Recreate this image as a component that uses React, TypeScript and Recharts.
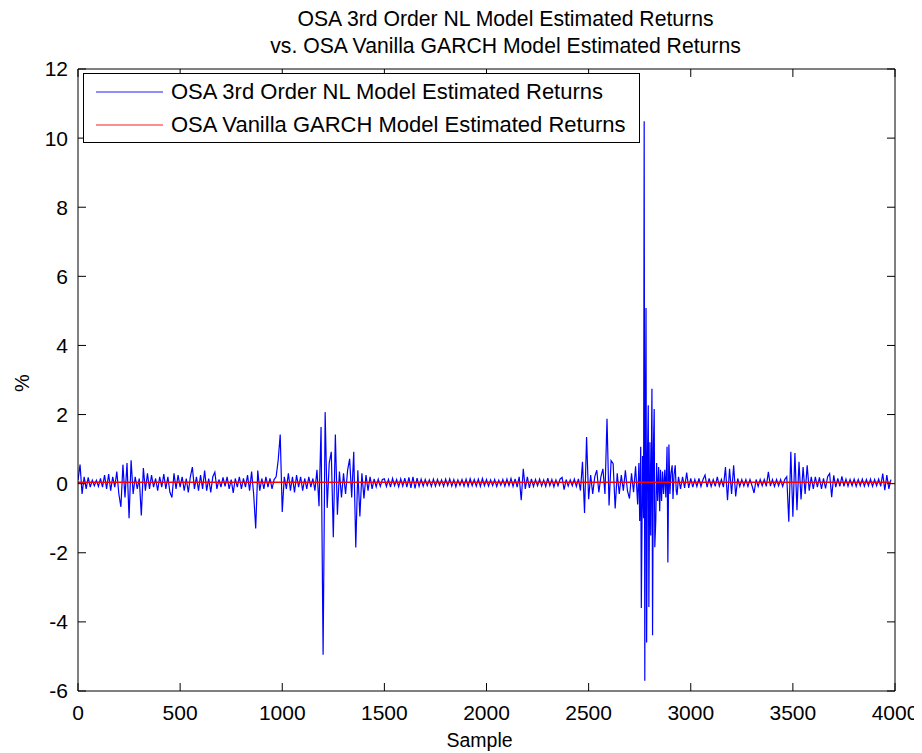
import React from 'react';
import { LineChart, Line, XAxis, YAxis, Legend } from 'recharts';

const FONT = '"Liberation Sans", Arial, Helvetica, sans-serif';

const titleLines = [
  'OSA 3rd Order NL Model Estimated Returns',
  'vs. OSA Vanilla GARCH Model Estimated Returns',
];
const seriesNames = [
  'OSA 3rd Order NL Model Estimated Returns',
  'OSA Vanilla GARCH Model Estimated Returns',
];
const xLabel = 'Sample';
const yLabel = '%';
const xTicks = [0, 500, 1000, 1500, 2000, 2500, 3000, 3500, 4000];
const yTicks = [-6, -4, -2, 0, 2, 4, 6, 8, 10, 12];

// NL model returns, one value every 10 samples
const SAMPLE_STEP = 10;
const nlSamples0000 = [
  0.1, 0.55, -0.3, 0.2, -0.15, 0.18, -0.1, 0.1, -0.06, 0.1,
  -0.08, 0.15, -0.1, 0.25, -0.15, 0.28, -0.2, 0.2, -0.1, 0.35,
  -0.3, -0.67, 0.55, -0.4, 0.6, -1.0, 0.68, -0.3, 0.2, -0.15,
  0.15, -0.92, 0.45, -0.2, 0.3, -0.15, 0.25, -0.1, 0.15, -0.2,
  0.2, -0.1, 0.28, -0.15, 0.2, -0.25, -0.4, 0.3, -0.15, 0.25,
];
const nlSamples0500 = [
  -0.1, 0.2, -0.2, 0.15, -0.25, 0.2, 0.48, -0.15, 0.2, -0.2,
  0.25, -0.15, 0.38, -0.2, 0.15, -0.25, 0.2, 0.33, -0.15, 0.12,
  -0.1, 0.18, -0.08, 0.2, -0.15, 0.12, -0.27, 0.15, -0.1, 0.2,
  -0.15, 0.15, -0.1, 0.25, -0.2, 0.35, -0.3, -1.3, 0.38, -0.2,
  0.15, -0.15, 0.2, -0.1, 0.15, -0.15, 0.12, 0.2, 0.67, 1.42,
];
const nlSamples1000 = [
  -0.82, 0.2, -0.15, 0.3, -0.2, 0.2, -0.25, 0.25, -0.1, 0.2,
  -0.2, 0.15, -0.15, 0.2, -0.1, 0.15, -0.2, 0.4, -0.65, 1.64,
  -4.95, 2.07, -0.7, 0.6, 0.92, -1.55, 1.42, -0.9, 0.35, -0.4,
  0.3, -0.3, 0.39, 0.72, -0.4, 0.92, -1.85, 0.39, -0.95, 0.3,
  -0.43, 0.25, -0.2, 0.2, -0.15, 0.14, -0.09, 0.13, -0.08, 0.12,
];
const nlSamples1500 = [
  0.14, -0.08, 0.12, -0.1, 0.15, -0.06, 0.12, -0.09, 0.14, -0.07,
  0.16, -0.1, 0.18, -0.12, 0.2, -0.14, 0.16, -0.08, 0.13, -0.07,
  0.12, -0.06, 0.11, -0.08, 0.13, -0.07, 0.12, -0.05, 0.11, -0.08,
  0.13, -0.06, 0.14, -0.07, 0.12, -0.09, 0.11, -0.05, 0.12, -0.07,
  0.13, -0.08, 0.14, -0.06, 0.12, -0.07, 0.13, -0.08, 0.15, -0.06,
];
const nlSamples2000 = [
  0.12, -0.07, 0.11, -0.06, 0.12, -0.08, 0.1, -0.05, 0.12, -0.07,
  0.13, -0.06, 0.15, -0.08, 0.14, -0.1, 0.2, -0.48, 0.43, -0.15,
  0.2, -0.12, 0.14, -0.08, 0.12, -0.06, 0.13, -0.07, 0.11, -0.08,
  0.16, -0.06, 0.12, -0.09, 0.11, -0.06, 0.13, 0.18, -0.17, 0.12,
  -0.07, 0.11, -0.06, 0.13, -0.08, 0.14, -0.2, 0.63, -0.85, 1.35,
];
const nlSamples2500 = [
  -0.45, 0.25, -0.3, 0.2, 0.39, -0.25, 0.2, 0.43, -0.3, 1.88,
  -0.63, 0.67, 0.58, -0.72, 0.3, -0.3, 0.25, -0.2, 0.39, -0.2,
];
// dense burst around sample 2700-2990: [sample, value]
const nlBurst2700: [number, number][] = [
  [2700, -0.43], [2710, 0.3], [2720, -0.25], [2730, 0.5], [2740, -0.6],
  [2746, 0.6], [2750, -1.08], [2755, 1.07], [2758, -3.6], [2764, 0.8],
  [2769, -1.0], [2772, 10.49], [2775, -5.7], [2778, 1.5], [2781, 5.08],
  [2784, -4.6], [2788, 0.8], [2792, 2.27], [2795, -3.57], [2800, 1.2],
  [2804, -1.5], [2810, 2.75], [2813, -4.39], [2817, 1.0], [2821, 2.16],
  [2824, -1.84], [2829, -1.03], [2833, 0.6], [2838, -0.5], [2843, 0.48],
  [2848, -0.8], [2852, 0.4], [2857, -0.5], [2862, 0.35], [2867, -0.3],
  [2873, 0.4], [2878, -0.4], [2884, 1.07], [2888, -2.28], [2893, 1.13],
  [2898, -0.3], [2903, 0.3], [2909, 0.53], [2913, -0.44], [2918, 0.25],
  [2924, 0.53], [2929, -0.2], [2933, -0.33], [2940, 0.2], [2950, -0.15],
  [2960, 0.2], [2970, -0.12], [2980, 0.32], [2990, -0.12],
];
const nlSamples3000 = [
  0.15, -0.1, 0.12, -0.08, 0.15, -0.08, 0.12, 0.25, -0.1, 0.15,
  -0.08, 0.12, -0.08, 0.2, -0.07, 0.12, -0.1, 0.48, -0.48, 0.43,
  -0.3, 0.53, -0.37, 0.15, -0.08, 0.12, -0.07, 0.12, -0.08, 0.12,
  -0.06, -0.27, 0.12, -0.08, 0.12, -0.06, 0.12, -0.08, 0.34, -0.07,
  0.12, -0.08, 0.12, -0.06, 0.12, -0.08, 0.12, 0.2, -1.1, 0.92,
];
const nlSamples3500 = [
  -0.96, 0.89, -0.77, 0.63, -0.46, 0.48, -0.3, 0.53, -0.2, 0.2,
  -0.15, 0.2, -0.1, 0.18, -0.15, 0.15, -0.14, 0.2, 0.29, -0.39,
  0.24, -0.1, 0.15, -0.08, 0.21, -0.08, 0.13, -0.07, 0.12, -0.06,
  0.13, -0.08, 0.12, -0.06, 0.13, -0.07, 0.12, -0.06, 0.13, -0.08,
  0.12, -0.06, 0.13, -0.08, 0.29, -0.19, 0.25, -0.15, 0.12,
];

// GARCH model returns (flat)
const garchSamples = [0, 1000, 2000, 3000, 3980];
const garchReturns = [0.04, 0.04, 0.04, 0.04, 0.04];

const fromStep = (start: number, values: number[]) =>
  values.map((v, i) => ({ x: start + i * SAMPLE_STEP, y: v }));

const nlData = [
  ...fromStep(0, nlSamples0000),
  ...fromStep(500, nlSamples0500),
  ...fromStep(1000, nlSamples1000),
  ...fromStep(1500, nlSamples1500),
  ...fromStep(2000, nlSamples2000),
  ...fromStep(2500, nlSamples2500),
  ...nlBurst2700.map(([x, y]) => ({ x, y })),
  ...fromStep(3000, nlSamples3000),
  ...fromStep(3500, nlSamples3500),
];
const garchData = garchSamples.map((x, i) => ({ x, y: garchReturns[i] }));

const tickStyle = { fill: '#000', fontSize: 21, fontFamily: FONT };

const renderTitle = (props: any) => {
  const vb = props.viewBox;
  const cx = vb.x + vb.width / 2 + 19;
  return (
    <text textAnchor="middle" fontFamily={FONT} fontSize={21.2} fill="#000">
      {titleLines.map((t, i) => (
        <tspan key={i} x={cx} y={vb.y - 50 + i * 27} dominantBaseline="central">
          {t}
        </tspan>
      ))}
    </text>
  );
};

const renderXLabel = (props: any) => {
  const vb = props.viewBox;
  return (
    <text x={vb.x + vb.width / 2 - 7} y={vb.y + 49} textAnchor="middle" dominantBaseline="central"
      fontFamily={FONT} fontSize={19.5} fill="#000">{xLabel}</text>
  );
};

const renderYLabel = (props: any) => {
  const vb = props.viewBox;
  const x = vb.x + 14;
  const y = vb.y + vb.height / 2 + 3;
  return (
    <text x={x} y={y} textAnchor="middle" dominantBaseline="central" transform={`rotate(-90 ${x} ${y})`}
      fontFamily={FONT} fontSize={20} fill="#000">{yLabel}</text>
  );
};

const renderLegend = (props: any) => {
  const payload = props.payload || [];
  return (
    <div style={{ boxSizing: 'border-box', width: 557, height: 70, border: '1px solid #000', background: '#fff', position: 'relative', fontFamily: FONT, fontSize: 22, color: '#000' }}>
      {payload.map((entry: any, i: number) => (
        <div key={i} style={{ position: 'absolute', left: 12, top: 3 + i * 33, height: 30, display: 'flex', alignItems: 'center', whiteSpace: 'nowrap' }}>
          <svg width={67} height={4} style={{ display: 'block' }}>
            <line x1={0} y1={2} x2={67} y2={2} stroke={entry.color} strokeOpacity={0.6} strokeWidth={1.3} />
          </svg>
          <span style={{ marginLeft: 8 }}>{entry.value}</span>
        </div>
      ))}
    </div>
  );
};

export default function App() {
  return (
    <LineChart width={914} height={745} margin={{ top: 60, right: 26, bottom: 0, left: 0 }} style={{ fontFamily: FONT }}>
      <XAxis xAxisId="bottom" dataKey="x" type="number" domain={[0, 4000]} ticks={xTicks} height={62}
        tickSize={-8} tickMargin={22} tick={tickStyle} axisLine={{ stroke: '#000' }} tickLine={{ stroke: '#000' }}
        allowDataOverflow label={renderXLabel} />
      <XAxis xAxisId="top" orientation="top" dataKey="x" type="number" domain={[0, 4000]} ticks={xTicks} height={1}
        tickSize={-8} tickFormatter={() => ''} axisLine={{ stroke: '#000' }} tickLine={{ stroke: '#000' }}
        allowDataOverflow label={renderTitle} />
      <YAxis yAxisId="left" type="number" domain={[-6, 12]} ticks={yTicks} width={70}
        tickSize={-8} tickMargin={18} tick={tickStyle} axisLine={{ stroke: '#000' }} tickLine={{ stroke: '#000' }}
        allowDataOverflow label={renderYLabel} />
      <YAxis yAxisId="right" orientation="right" type="number" domain={[-6, 12]} ticks={yTicks} width={1}
        tickSize={-8} tickFormatter={() => ''} axisLine={{ stroke: '#000' }} tickLine={{ stroke: '#000' }}
        allowDataOverflow />
      <Legend layout="horizontal" verticalAlign="middle" align="center" content={renderLegend}
        wrapperStyle={{ left: 75, top: 65, width: 557, height: 70 }} />
      <Line xAxisId="bottom" yAxisId="left" data={nlData} dataKey="y" name={seriesNames[0]} type="linear"
        stroke="#0000ff" strokeWidth={1.2} dot={false} activeDot={false} isAnimationActive={false} />
      <Line xAxisId="bottom" yAxisId="left" data={garchData} dataKey="y" name={seriesNames[1]} type="linear"
        stroke="#ff0000" strokeWidth={1.5} dot={false} activeDot={false} isAnimationActive={false} />
    </LineChart>
  );
}
